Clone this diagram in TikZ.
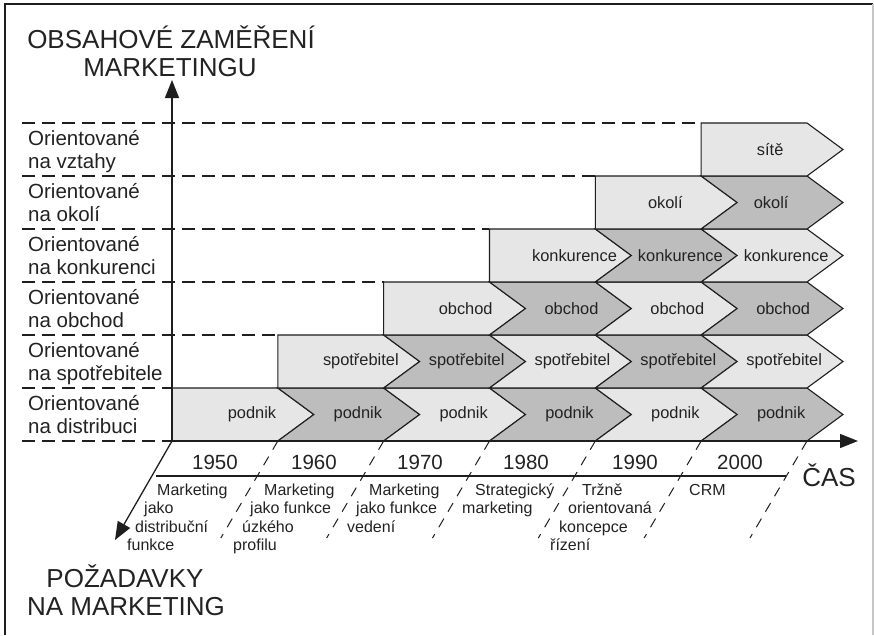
\documentclass[tikz,border=0pt]{standalone}
\usepackage{fontspec}
\setmainfont{Liberation Sans}
\usetikzlibrary{arrows.meta}
\definecolor{lightc}{HTML}{E6E6E6}
\definecolor{darkc}{HTML}{BDBDBD}
\definecolor{ink}{HTML}{1E1E1E}
\definecolor{txt}{HTML}{222222}
\tikzset{
  chev/.style={draw=ink, line width=1.1pt, line join=miter},
  chevtext/.style={inner sep=0pt, text=txt, font=\fontsize{16.4}{18}\selectfont},
  rowlab/.style={anchor=base west, inner sep=0pt, text=txt, font=\fontsize{20.5}{22.5}\selectfont},
  biglab/.style={anchor=base, inner sep=0pt, text=txt, font=\fontsize{26}{28}\selectfont},
  yearlab/.style={anchor=base, inner sep=0pt, text=txt, font=\fontsize{20.5}{22}\selectfont},
  desclab/.style={anchor=base west, inner sep=0pt, text=txt, font=\fontsize{16}{18}\selectfont},
  rowline/.style={draw=ink, line width=1.1pt, dash pattern=on 13pt off 7pt},
  slantline/.style={draw=ink, line width=1.0pt, dash pattern=on 10pt off 8pt},
  axis/.style={draw=ink, line width=1.3pt, -{Triangle[length=18pt,width=14pt]}},
}
\begin{document}
\begin{tikzpicture}[x=1pt,y=-1pt]
\useasboundingbox (0,0) rectangle (874,635);
% frame
\draw[ink, line width=1.4pt] (5,635) -- (5,4) -- (873,4);
\draw[gray!45, line width=1.2pt] (873,4) -- (873,635);
\def\W{105.83}
\def\D{36}
% dashed row lines
\foreach \k in {0,...,6} {
  \pgfmathsetmacro\yy{441-\k*53}
  \pgfmathsetmacro\xe{172+max(\k-1,0)*\W}
  \draw[rowline] (22,\yy) -- (\xe,\yy);
}
% chevrons
\foreach \r/\lab/\off in {0/podnik/80, 1/spotřebitel/83, 2/obchod/82, 3/konkurence/85, 4/okolí/70, 5/sítě/69} {
  \pgfmathsetmacro\yT{441-(\r+1)*53}
  \pgfmathsetmacro\yB{441-\r*53}
  \pgfmathsetmacro\yM{441-(\r+0.5)*53}
  \pgfmathtruncatemacro\nn{5-\r}
  \foreach \j in {0,...,\nn} {
    \pgfmathsetmacro\xl{172+(\r+\j)*\W}
    \pgfmathsetmacro\xr{\xl+\W}
    \pgfmathtruncatemacro\odd{mod(\j,2)}
    \ifnum\odd=0 \def\fc{lightc}\else\def\fc{darkc}\fi
    \ifnum\j=0
      \draw[chev, fill=\fc] (\xl,\yT) -- (\xr,\yT) -- ({\xr+\D},\yM) -- (\xr,\yB) -- (\xl,\yB) -- cycle;
    \else
      \draw[chev, fill=\fc] (\xl,\yT) -- (\xr,\yT) -- ({\xr+\D},\yM) -- (\xr,\yB) -- (\xl,\yB) -- ({\xl+\D},\yM) -- cycle;
    \fi
    \node[chevtext] (t-\r-\j) at ({\xl+\off},\yM) {\lab};
  }
}
% axes
\coordinate (O) at (172,441);
\coordinate (ytip) at (172,80);
\coordinate (xtip) at (858,441);
\coordinate (ztip) at (115,540);
\draw[axis] (O) -- (ytip);
\draw[axis] (O) -- (xtip);
\draw[axis] (O) -- (ztip);
% slanted dashed lines
\foreach \c in {1,...,6} {
  \pgfmathsetmacro\xs{172+\c*\W}
  \coordinate (s\c) at (\xs,441);
  \coordinate (e\c) at ({\xs-57},538);
  \draw[slantline] (s\c) -- (e\c);
}
\coordinate (b0) at (156,476);
\coordinate (b1) at (786,476);
\draw[ink, line width=1.1pt] (b0) -- (b1);
% years
\foreach \x/\t [count=\i] in {215/1950, 314/1960, 420/1970, 526/1980, 635/1990, 740/2000}
  \node[yearlab] (y\i) at (\x,469) {\t};
% row labels
\foreach \r/\t [count=\i] in {5/vztahy, 4/okolí, 3/konkurenci, 2/obchod, 1/spotřebitele, 0/distribuci} {
  \pgfmathsetmacro\yT{441-(\r+1)*53}
  \node[rowlab] (ra\i) at (28,{\yT+22.5}) {Orientované};
  \node[rowlab] (rb\i) at (28,{\yT+45}) {na \t};
}
% big labels
\node[biglab] (ti1) at (171,48) {OBSAHOVÉ ZAMĚŘENÍ};
\node[biglab] (ti2) at (170,76) {MARKETINGU};
\node[biglab] (po1) at (125,587) {POŽADAVKY};
\node[biglab] (po2) at (126,615) {NA MARKETING};
\node[biglab] (cas) at (829,486) {ČAS};
% descriptions
\foreach \x/\y/\t [count=\i] in {
  157/495/Marketing, 144/513.5/jako, 135/532/distribuční, 127/550.5/funkce,
  264/495/Marketing, 250/513.5/jako funkce, 242/532/úzkého, 233/550.5/profilu,
  369/495/Marketing, 356/513.5/jako funkce, 347/532/vedení,
  475/495/Strategický, 462/513.5/marketing,
  582/495/Tržně, 568/513.5/orientovaná, 559/532/koncepce, 550/550.5/řízení,
  689/495/CRM}
  \node[desclab] (d\i) at (\x,\y) {\t};
\end{tikzpicture}
\end{document}
